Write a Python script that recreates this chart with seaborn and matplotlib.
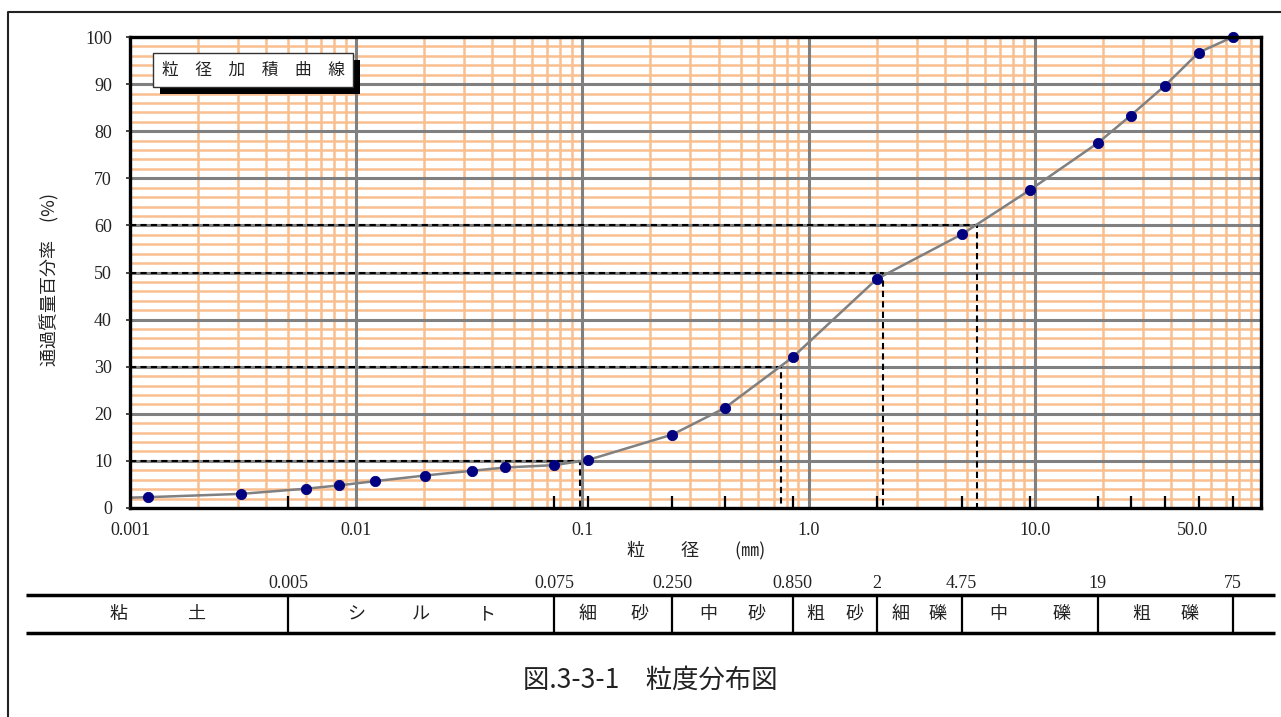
import numpy as np
import matplotlib
matplotlib.use("Agg")
import matplotlib.pyplot as plt
import matplotlib.patheffects as pe
import seaborn as sns
import pandas as pd

# --- Data ---
grain_size = [75, 53, 37.5, 26.5, 19, 9.5, 4.75, 2, 0.85, 0.425, 0.25, 0.106, 0.075,
              0.0456, 0.0324, 0.0202, 0.0121, 0.0084, 0.0060, 0.0031, 0.0012]
passing = [100.0, 96.7, 89.6, 83.3, 77.5, 67.5, 58.1, 48.6, 32.0, 21.2, 15.6, 10.2, 9.1,
           8.6, 7.9, 6.9, 5.7, 4.8, 4.1, 3.0, 2.3]
curve_start_size = 0.001      # curve leaves the left edge here
curve_start_pass = 2.2

d_percent = [10, 30, 50, 60]            # D10, D30, D50, D60
d_size = [0.098, 0.754, 2.13, 5.54]

sieve_ticks = [0.005, 0.075, 0.106, 0.25, 0.425, 0.85, 2, 4.75, 9.5, 19, 26.5, 37.5, 53, 75]
x_label_vals = [0.001, 0.01, 0.1, 1.0, 10.0, 50.0]
x_label_text = ["0.001", "0.01", "0.1", "1.0", "10.0", "50.0"]

bounds = [0.005, 0.075, 0.25, 0.85, 2, 4.75, 19, 75]
bound_text = ["0.005", "0.075", "0.250", "0.850", "2", "4.75", "19", "75"]
soil_names = ["粘土", "シルト", "細砂", "中砂", "粗砂", "細礫", "中礫", "粗礫"]
char_step = [78, 65, 52, 49, 39, 37, 64, 48]   # px between characters in each cell

# --- Style ---
sns.set_theme(style="white")
plt.rcParams['font.family'] = ['Noto Sans CJK JP', 'DejaVu Sans']
ORANGE = "#F9BF8F"
GRAY = "#808080"
NAVY = "#000080"
NUM_FONT = "Liberation Serif"

W, H = 1281, 717
fig = plt.figure(figsize=(W / 100, H / 100), dpi=100)
fig.patch.set_facecolor("white")

# main plot area in pixel terms: x 130..1261, y 37..508
ax = fig.add_axes([130 / W, 1 - 508 / H, 1131 / W, 471 / H])
ax.set_facecolor("white")
ax.set_axisbelow(False)
ax.set_xscale("log")
ax.set_xlim(0.001, 100)
ax.set_ylim(0, 100)

# grid: orange minor, gray major
decades = [0.001, 0.01, 0.1, 1, 10]
minor_x = [d * k for d in decades for k in range(2, 10)]
ax.vlines(minor_x, 0, 100, color=ORANGE, lw=1.8, zorder=1)
ax.hlines([v for v in range(2, 100, 2) if v % 10], 0.001, 100, color=ORANGE, lw=1.8, zorder=1)
ax.vlines(decades[1:], 0, 100, color=GRAY, lw=2.2, zorder=2)
ax.hlines(list(range(10, 100, 10)), 0.001, 100, color=GRAY, lw=2.2, zorder=2)

# D-value guide lines
for dp, ds in zip(d_percent, d_size):
    ax.plot([0.001, ds, ds], [dp, dp, 0], ls=(0, (3, 2)), color="black", lw=1.5, zorder=3)

# curve + points
curve = pd.DataFrame({"size": [curve_start_size] + grain_size,
                      "pass": [curve_start_pass] + passing})
sns.lineplot(data=curve, x="size", y="pass", sort=True, estimator=None,
             color=GRAY, lw=1.8, ax=ax, zorder=4)
pts = pd.DataFrame({"size": grain_size, "pass": passing})
sns.scatterplot(data=pts, x="size", y="pass", color=NAVY, edgecolor=NAVY, s=55,
                ax=ax, zorder=5, clip_on=False)
ax.set_xlabel("")
ax.set_ylabel("")

# spines
for sp in ax.spines.values():
    sp.set_visible(True)
    sp.set_color("black")
    sp.set_linewidth(2.4)
    sp.set_zorder(6)

# ticks
ax.xaxis.set_zorder(6)
ax.yaxis.set_zorder(6)
ax.set_xticks(sieve_ticks, labels=[""] * len(sieve_ticks))
ax.tick_params(axis="x", which="major", direction="in", length=9, width=1.6,
               color="black", bottom=True)
ax.set_xticks(x_label_vals, labels=x_label_text, minor=True)
ax.tick_params(axis="x", which="minor", length=0, pad=10, labelsize=13, bottom=True)
ax.set_yticks(list(range(0, 101, 10)))
ax.tick_params(axis="y", direction="out", length=3, width=1.2, pad=10, labelsize=13, left=True)
for lbl in ax.get_xticklabels(minor=True) + ax.get_yticklabels():
    lbl.set_fontfamily(NUM_FONT)
    lbl.set_color("#222222")

# title box with drop shadow
tx, ty = (253 - 130) / 1131, (508 - 70) / 471
ttl = ax.text(tx, ty, "粒　径　加　積　曲　線", transform=ax.transAxes, ha="center",
              va="center", fontsize=12, color="#222222", zorder=8,
              bbox=dict(boxstyle="square,pad=0.5", fc="white", ec="#333333", lw=1))
ttl.get_bbox_patch().set_path_effects([
    pe.SimplePatchShadow(offset=(5, -5), shadow_rgbFace="black", alpha=1.0),
    pe.Normal()])

# --- overlay in pixel y / same log x mapping for the soil class table ---
lo, hi = np.log10(0.001), np.log10(100)
per_px = (hi - lo) / 1131


def px_to_size(px):
    return 10 ** (lo + (px - 130) * per_px)


ax_tab = fig.add_axes([0, 0, 1, 1], facecolor="none")
ax_tab.set_xscale("log")
ax_tab.set_xlim(px_to_size(0), px_to_size(W))
ax_tab.set_ylim(H, 0)
ax_tab.axis("off")

ax_tab.hlines([595, 633], px_to_size(26), px_to_size(1275), color="black", lw=2.5)
ax_tab.vlines(bounds, 595, 633, color="black", lw=1.6)
for b, t in zip(bounds, bound_text):
    ax_tab.text(b, 584, t, ha="center", va="center", fontsize=13,
                family=NUM_FONT, color="#222222")

edges = [px_to_size(26)] + bounds
for i, (name, step) in enumerate(zip(soil_names, char_step)):
    c = np.sqrt(edges[i] * edges[i + 1])
    n = len(name)
    for k, ch in enumerate(name):
        ax_tab.annotate(ch, xy=(c, 614), xytext=((k - (n - 1) / 2) * step, 0),
                        textcoords="offset pixels", ha="center", va="center",
                        fontsize=13, color="#222222")

# outer frame (top and left edges visible)
fig.add_artist(plt.Line2D([8 / W, 8 / W, 1.0], [0.0, 1 - 12 / H, 1 - 12 / H],
                          transform=fig.transFigure, color="#222222", lw=1.5))

# axis labels and caption
fig.text(50 / W, 1 - 280 / H, "通過質量百分率　(%)", rotation=90, ha="center",
         va="center", fontsize=13, color="#222222")
fig.text(696 / W, 1 - 550 / H, "粒　　径　　(㎜)", ha="center", va="center",
         fontsize=13, color="#222222")
fig.text(650 / W, 1 - 680 / H, "図.3-3-1　粒度分布図", ha="center", va="center",
         fontsize=19, color="#222222")

fig.savefig("out.png", dpi=100)
